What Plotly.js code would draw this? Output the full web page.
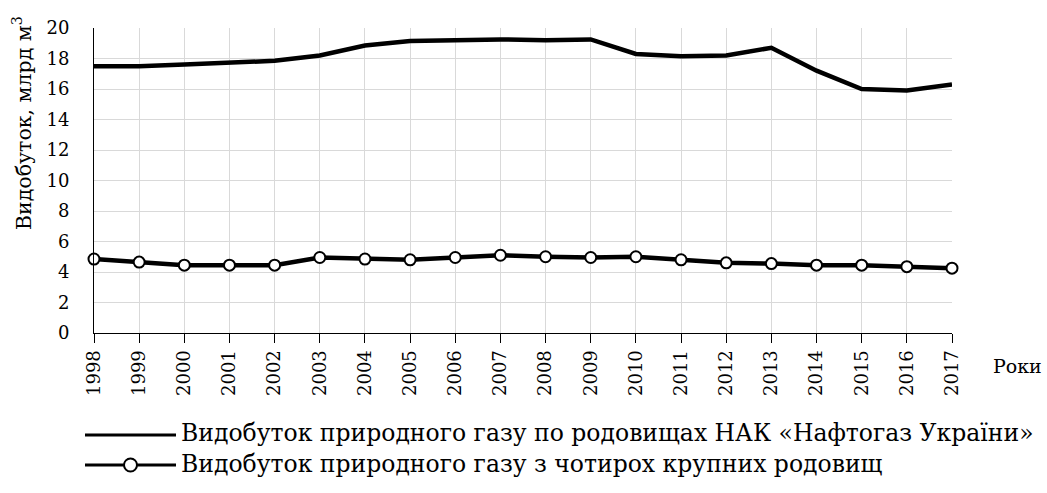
<!DOCTYPE html>
<html>
<head>
<meta charset="utf-8">
<script src="https://cdn.plot.ly/plotly-3.0.1.min.js"></script>
<style>html,body{margin:0;padding:0;background:#fff;}#chart{width:1047px;height:493px;}</style>
</head>
<body>
<div id="chart"></div>
<script>
const years = ["1998","1999","2000","2001","2002","2003","2004","2005","2006","2007","2008","2009","2010","2011","2012","2013","2014","2015","2016","2017"];
const naftogaz = [17.5,17.5,17.6,17.7,17.85,18.2,18.85,19.15,19.2,19.25,19.2,19.25,18.3,18.15,18.2,18.7,17.2,16.0,15.9,16.3];
const fourFields = [4.85,4.65,4.45,4.45,4.45,4.95,4.85,4.8,4.95,5.1,5.0,4.95,5.0,4.8,4.6,4.55,4.45,4.45,4.35,4.25];
const seriesNames = ["Видобуток природного газу по родовищах НАК «Нафтогаз України»","Видобуток природного газу з чотирох крупних родовищ"];
const yTitle = "Видобуток, млрд м<sup>3</sup>";
const xTitle = "Роки";

const FONT = "DejaVu Serif";
const L = 94, R = 952, T = 28, B = 333, W = 1047, H = 493;
const px = x => (x - L) / (R - L);
const py = y => (B - y) / (B - T);

const traces = [
  {x: years, y: naftogaz, type: 'scatter', mode: 'lines', name: seriesNames[0],
   line: {color: '#000', width: 4.5}, showlegend: false},
  {x: years, y: fourFields, type: 'scatter', mode: 'lines+markers', name: seriesNames[1],
   line: {color: '#000', width: 4.5},
   marker: {symbol: 'circle', size: 11, color: '#fff', line: {color: '#000', width: 2}},
   cliponaxis: false, showlegend: false}
];

const layout = {
  width: W, height: H,
  margin: {l: L, r: W - R, t: T, b: H - B},
  paper_bgcolor: '#fff', plot_bgcolor: '#fff',
  font: {family: FONT, color: '#000', size: 18},
  xaxis: {type: 'category', range: [0, 19], autorange: false,
    showgrid: true, gridcolor: '#d9d9d9', gridwidth: 1,
    showline: true, linecolor: '#000', linewidth: 1,
    ticks: 'outside', ticklen: 9, tickcolor: '#000', tickwidth: 1,
    tickangle: -90, tickfont: {family: FONT, size: 18, color: '#000'},
    zeroline: false, fixedrange: true},
  yaxis: {range: [0, 20], autorange: false, dtick: 2, tick0: 0,
    showgrid: true, gridcolor: '#d9d9d9', gridwidth: 1,
    showline: true, linecolor: '#000', linewidth: 1,
    ticks: '', ticklabelstandoff: 20,
    tickfont: {family: FONT, size: 18, color: '#000'},
    zeroline: false, fixedrange: true},
  showlegend: false,
  shapes: [
    {type: 'line', xref: 'paper', yref: 'paper', x0: px(85), x1: px(176), y0: py(435), y1: py(435),
     line: {color: '#000', width: 3}},
    {type: 'line', xref: 'paper', yref: 'paper', x0: px(85), x1: px(176), y0: py(465), y1: py(465),
     line: {color: '#000', width: 3}},
    {type: 'circle', xref: 'paper', yref: 'paper', x0: px(124), x1: px(137), y0: py(458.5), y1: py(471.5),
     fillcolor: '#fff', line: {color: '#000', width: 2}}
  ],
  annotations: [
    {text: yTitle, xref: 'paper', yref: 'paper', x: px(22), y: py(123), textangle: -90,
     showarrow: false, font: {family: FONT, size: 20.5, color: '#000'}, xanchor: 'center', yanchor: 'middle'},
    {text: xTitle, xref: 'paper', yref: 'paper', x: px(991), y: py(366),
     showarrow: false, font: {family: FONT, size: 19, color: '#000'}, xanchor: 'left', yanchor: 'middle'},
    {text: seriesNames[0], xref: 'paper', yref: 'paper', x: px(179), y: py(433),
     showarrow: false, font: {family: FONT, size: 23.5, color: '#000'}, xanchor: 'left', yanchor: 'middle'},
    {text: seriesNames[1], xref: 'paper', yref: 'paper', x: px(179), y: py(464),
     showarrow: false, font: {family: FONT, size: 23.5, color: '#000'}, xanchor: 'left', yanchor: 'middle'}
  ]
};

Plotly.newPlot('chart', traces, layout, {displayModeBar: false, staticPlot: true});
</script>
</body>
</html>
